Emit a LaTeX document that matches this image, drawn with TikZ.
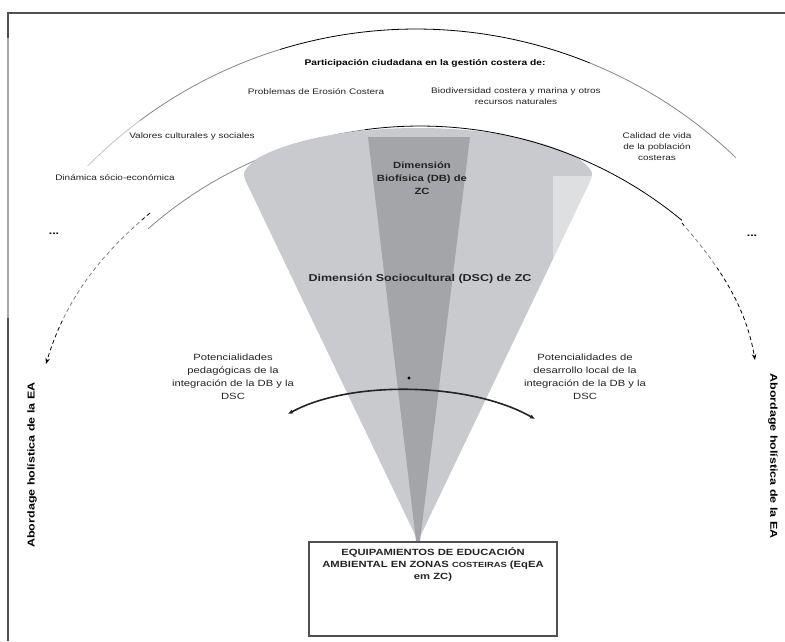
\documentclass[tikz,border=0pt]{standalone}
\usepackage{fontspec}
\setmainfont{Liberation Sans}[FakeStretch=1.25]
\usetikzlibrary{arrows.meta}
\definecolor{conelight}{RGB}{201,202,205}
\definecolor{coneband}{RGB}{164,165,168}
\definecolor{framegray}{RGB}{80,80,80}
\definecolor{arcgray}{RGB}{135,135,135}
\definecolor{inkgray}{RGB}{35,35,35}
\begin{document}
\begin{tikzpicture}[x=1pt,y=-1pt,
  topic/.style={font=\fontsize{8}{11}\selectfont, text=inkgray, align=center, inner sep=0pt},
  heading/.style={font=\bfseries\fontsize{8.2}{11}\selectfont, text=black, align=center, inner sep=0pt},
  dimlabel/.style={font=\bfseries\fontsize{9}{13}\selectfont, text=inkgray, align=center, inner sep=0pt},
  potlabel/.style={font=\fontsize{9}{13}\selectfont, text=inkgray, align=center, inner sep=0pt},
  sidelabel/.style={font=\bfseries\fontsize{10}{12}\selectfont, text=black, inner sep=0pt},
  ellipsis/.style={font=\bfseries\fontsize{10}{12}\selectfont, text=black, inner sep=0pt},
  dasharrow/.style={black, line width=0.8, dash pattern=on 4pt off 3pt, -{Stealth[length=6pt,width=4.5pt]}},
  swing/.style={inkgray, line width=1.6, {Latex[length=5pt,width=4.5pt]}-{Latex[length=5pt,width=4.5pt]}},
  outline/.style={black, line width=0.8}]
\useasboundingbox (0,0) rectangle (785,641);

% frame
\draw[framegray, line width=1.2] (8,641) -- (8,13) -- (785,13);

% dashed arrows towards the holistic approach labels
\coordinate (dlA) at (150,213);
\coordinate (dlB) at (46,364);
\coordinate (drA) at (682,223);
\coordinate (drB) at (755,360);
\draw[dasharrow] (dlA) .. controls (100,255) and (65,300) .. (dlB);
\draw[dasharrow] (drA) .. controls (712,258) and (745,300) .. (drB);

% outer arc
\draw[arcgray, line width=0.8] (416,491) ++(-135.3:462) arc[start angle=-135.3, end angle=-107.1, radius=462];
\draw[outline] (416,491) ++(-107.1:462) arc[start angle=-107.1, end angle=-67.9, radius=462];
\draw[arcgray, line width=0.8] (416,491) ++(-67.9:462) arc[start angle=-67.9, end angle=-46.2, radius=462];

% faded regions
\fill[white, opacity=0.5] (0,38) rectangle (140,318);
\fill[white, opacity=0.5] (684,218) rectangle (760,268);

% inner arc, lower left part
\draw[arcgray, line width=0.8] (420,537) ++(-131.4:411) arc[start angle=-131.4, end angle=-97.7, radius=411];

% cone
\fill[conelight] (418,541) -- (250,190) .. controls (241,172) .. (258,158)
  .. controls (330,118) and (506,118) .. (578,158) .. controls (595,172) .. (586,190) -- cycle;
\fill[coneband] (368,137) -- (470,137) -- (420,541) -- (416,541) -- cycle;
\fill[white, opacity=0.4] (553,176) rectangle (600,262);

% inner arc, upper right part
\draw[outline] (420,537) ++(-97.7:411) arc[start angle=-97.7, end angle=-50.4, radius=411];

% texts of the outer ring
\node[heading] (part) at (425,63) {Participación ciudadana en la gestión costera de:};
\node[topic] (prob) at (316,92) {Problemas de Erosión Costera};
\node[topic] (bio) at (516,96) {Biodiversidad costera y marina y otros\\recursos naturales};
\node[topic] (val) at (192,136) {Valores culturales y sociales};
\node[topic] (cal) at (657,147) {Calidad de vida\\de la población\\costeras};
\node[topic] (din) at (115,178) {Dinámica sócio-económica};
\node[ellipsis] (dotsl) at (54,234) {...};
\node[ellipsis] (dotsr) at (752,236) {...};

% dimensions
\node[dimlabel] (db) at (422,178) {Dimensión\\Biofísica (DB) de\\ZC};
\node[dimlabel, font=\bfseries\fontsize{10}{12}\selectfont] (dsc) at (420,279) {Dimensión Sociocultural (DSC) de ZC};

% potentialities
\node[potlabel] (potl) at (233,377) {Potencialidades\\pedagógicas de la\\integración de la DB y la\\DSC};
\node[potlabel] (potr) at (585,377) {Potencialidades de\\desarrollo local de la\\integración de la DB y la\\DSC};
\fill[black] (409,378) circle[radius=1.6];
\coordinate (swl) at (288,414);
\coordinate (swr) at (535,419);
\draw[swing] (swl) .. controls (350,380) and (470,382) .. (swr);

% holistic approach labels
\node[sidelabel, rotate=90] (holl) at (32,465) {Abordage holística de la EA};
\node[sidelabel, rotate=-90] (holr) at (773,456) {Abordage holística de la EA};

% equipment box
\node[draw=framegray, line width=1.1, minimum width=248pt, minimum height=94pt, inner sep=0pt] (eqea) at (433,589) {};
\node[font=\bfseries\fontsize{9}{12}\selectfont, text=inkgray, align=center, anchor=north, inner sep=0pt] (eqeatext) at ([yshift=-6pt]eqea.north)
  {EQUIPAMIENTOS DE EDUCACIÓN\\AMBIENTAL EN ZONAS {\fontsize{7.5}{12}\selectfont COSTEIRAS} (EqEA\\em ZC)};
\end{tikzpicture}
\end{document}
